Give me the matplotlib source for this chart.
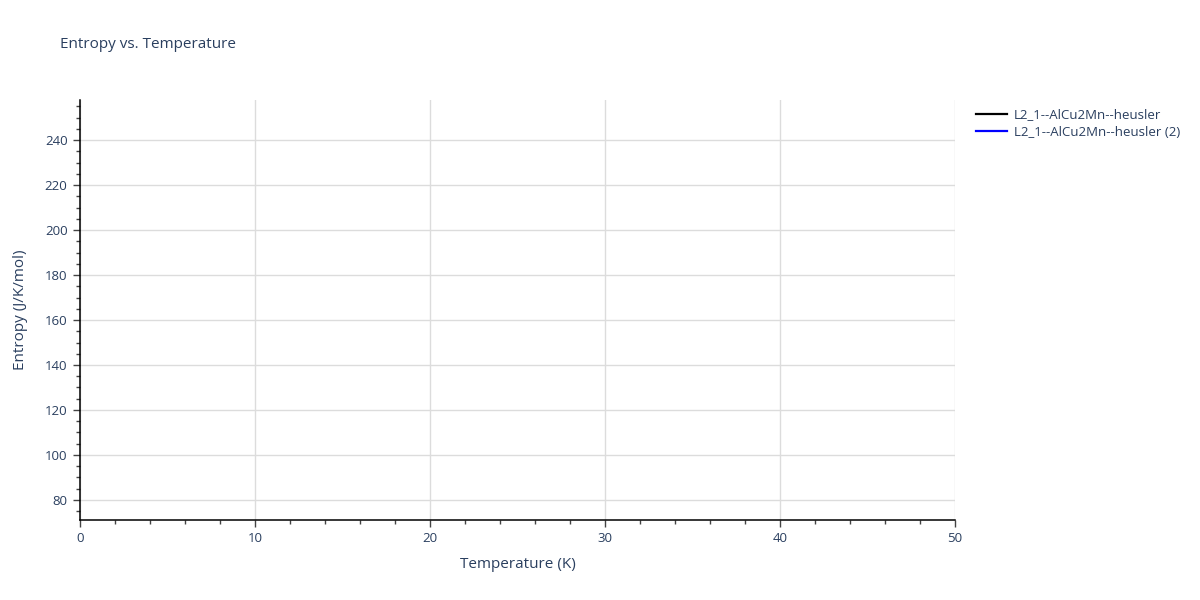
import matplotlib
matplotlib.use("Agg")
import matplotlib.pyplot as plt
from matplotlib.ticker import MultipleLocator
from matplotlib.lines import Line2D

plt.rcParams["font.family"] = ["Open Sans", "DejaVu Sans"]

# series (no points fall inside the visible 0-50 K window)
series_names = ["L2_1--AlCu2Mn--heusler", "L2_1--AlCu2Mn--heusler (2)"]
series_colors = ["black", "blue"]
temperature = [[], []]
entropy = [[], []]

x_range = (0, 50)
y_range = (71.1, 257.8)

text_color = "#2a3f5f"
grid_color = "#dcdcdc"

fig = plt.figure(figsize=(12, 6), dpi=100)
ax = fig.add_axes([80 / 1200, 80 / 600, 875 / 1200, 420 / 600])

for t, s, name, c in zip(temperature, entropy, series_names, series_colors):
    ax.plot(t, s, color=c, lw=2, label=name)

ax.set_xlim(*x_range)
ax.set_ylim(*y_range)

ax.xaxis.set_major_locator(MultipleLocator(10))
ax.xaxis.set_minor_locator(MultipleLocator(2))
ax.yaxis.set_major_locator(MultipleLocator(20))
ax.yaxis.set_minor_locator(MultipleLocator(5))

ax.grid(True, which="major", color=grid_color, lw=1)
ax.set_axisbelow(True)

for side in ["top", "right"]:
    ax.spines[side].set_visible(False)
for side in ["left", "bottom"]:
    ax.spines[side].set_color("black")
    ax.spines[side].set_linewidth(1.1)

ax.tick_params(which="major", direction="out", length=5, width=1, color="#444444",
               labelcolor=text_color, labelsize=9.5, pad=4)
ax.tick_params(which="minor", direction="out", length=3, width=1, color="#444444")

ax.set_xlabel("Temperature (K)", color=text_color, fontsize=11, labelpad=8)
ax.set_ylabel("Entropy (J/K/mol)", color=text_color, fontsize=11, labelpad=12)

fig.text(60 / 1200, 1 - 45 / 600, "Entropy vs. Temperature", color=text_color,
         fontsize=11, va="center", ha="left")

handles = [Line2D([], [], color=c, lw=1.6) for c in series_colors]
fig.legend(handles, series_names, loc="upper left", bbox_to_anchor=(971 / 1200, 1 - 103 / 600),
           frameon=False, fontsize=9.5, labelcolor=text_color, handlelength=2.3,
           handletextpad=0.55, labelspacing=0.35, borderaxespad=0)

fig.savefig("out.png", dpi=100)
